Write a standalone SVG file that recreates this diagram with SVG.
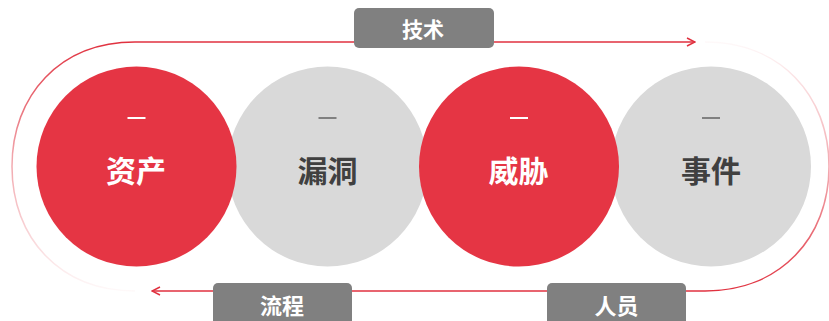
<svg xmlns="http://www.w3.org/2000/svg" width="829" height="321" viewBox="0 0 829 321">
<style>
.red{fill:#E53544}
.gray{fill:#D9D9D9}
.t{font-family:"Noto Sans CJK SC","Noto Sans",sans-serif;font-weight:700;text-anchor:middle;dominant-baseline:central}
.ct{font-size:30px}
.lt{font-size:21px;fill:#FFFFFF}
.box{fill:#808080}
.line{fill:none;stroke:#E0313F;stroke-width:1.5}
</style>
<defs>
<marker id="arr" viewBox="0 0 10 10" refX="9" refY="5" markerWidth="10" markerHeight="10" markerUnits="userSpaceOnUse" orient="auto">
<path d="M1,1 L9,5 L1,9" fill="none" stroke="#E0313F" stroke-width="1.5"/>
</marker>
<linearGradient id="gl" gradientUnits="userSpaceOnUse" x1="0" y1="42" x2="0" y2="291">
<stop offset="0" stop-color="#E0313F" stop-opacity="1"/>
<stop offset="0.45" stop-color="#E0313F" stop-opacity="0.45"/>
<stop offset="1" stop-color="#E0313F" stop-opacity="0.03"/>
</linearGradient>
<linearGradient id="gr" gradientUnits="userSpaceOnUse" x1="0" y1="42" x2="0" y2="291">
<stop offset="0" stop-color="#E0313F" stop-opacity="0.03"/>
<stop offset="0.55" stop-color="#E0313F" stop-opacity="0.45"/>
<stop offset="1" stop-color="#E0313F" stop-opacity="1"/>
</linearGradient>
</defs>
<g id="connectors">
<path d="M135,291 C60,291 12,238 12,166.5 C12,95 60,42 135,42" fill="none" stroke="url(#gl)" stroke-width="1.5"/>
<path d="M705,42 C780,42 829,95 829,166.5 C829,238 780,291 705,291" fill="none" stroke="url(#gr)" stroke-width="1.5"/>
<path class="line" d="M135,42 L695,42" marker-end="url(#arr)"/>
<path class="line" d="M705,291 L152,291" marker-end="url(#arr)"/>
</g>
<g id="node-loudong">
<circle class="gray" cx="327.5" cy="166.5" r="100"/>
<rect x="318.5" y="117" width="18" height="2" fill="#808080"/>
<text class="t ct" x="327.5" y="168.5" fill="#404040">漏洞</text>
</g>
<g id="node-shijian">
<circle class="gray" cx="711" cy="166.5" r="100"/>
<rect x="702" y="117" width="18" height="2" fill="#808080"/>
<text class="t ct" x="711" y="168.5" fill="#404040">事件</text>
</g>
<g id="node-zichan">
<circle class="red" cx="136.5" cy="166.5" r="100"/>
<rect x="127.5" y="117" width="18" height="2" fill="#FFFFFF"/>
<text class="t ct" x="136" y="168.5" fill="#FFFFFF">资产</text>
</g>
<g id="node-weixie">
<circle class="red" cx="519" cy="166.5" r="100"/>
<rect x="510" y="117" width="18" height="2" fill="#FFFFFF"/>
<text class="t ct" x="518.5" y="168.5" fill="#FFFFFF">威胁</text>
</g>
<g id="label-jishu">
<rect class="box" x="354" y="8" width="140" height="40" rx="5"/>
<text class="t lt" x="423" y="28">技术</text>
</g>
<g id="label-liucheng">
<rect class="box" x="213" y="283" width="139" height="42" rx="5"/>
<text class="t lt" x="282" y="303.5" style="font-size:22px">流程</text>
</g>
<g id="label-renyuan">
<rect class="box" x="547" y="283" width="139" height="42" rx="5"/>
<text class="t lt" x="616.5" y="303.5" style="font-size:22px">人员</text>
</g>
</svg>
